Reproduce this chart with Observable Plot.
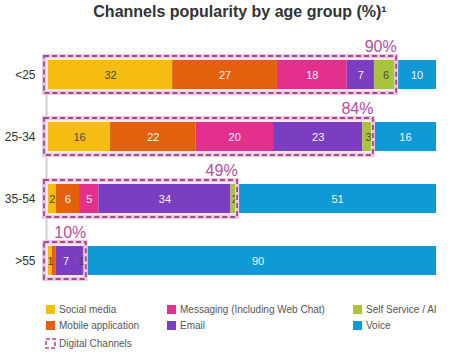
<!DOCTYPE html>
<html>
<head>
<meta charset="utf-8">
<script src="https://cdn.jsdelivr.net/npm/d3@7"></script>
<script src="https://cdn.jsdelivr.net/npm/@observablehq/plot@0.6"></script>
<style>
  body { margin: 0; background: #fff; font-family: Arial, "Liberation Sans", sans-serif; }
  #wrap { position: relative; width: 450px; height: 355px; overflow: hidden; }
  #title { height: 24px; line-height: 24px; font-size: 16px; font-weight: bold; color: #333; text-align: center; padding-left: 30px; box-sizing: border-box; width: 450px; }
  .leg { position: absolute; font-size: 10px; color: #555; white-space: nowrap; line-height: 12px; }
  .sw { position: absolute; width: 9px; height: 9px; }
</style>
</head>
<body>
<div id="wrap">
  <div id="title">Channels popularity by age group (%)¹</div>
  <div id="chart"></div>
  <div id="legend"></div>
</div>
<script>
const ages = ["<25", "25-34", "35-54", ">55"];
const channels = ["Social media", "Mobile application", "Messaging (Including Web Chat)", "Email", "Self Service / AI", "Voice"];
const colors = ["#F5BD12", "#E2600E", "#E3308D", "#7B3DC2", "#A8C43C", "#0F9AD6"];
const socialMedia = [32, 16, 2, 1];
const mobileApp = [27, 22, 6, 1];
const messaging = [18, 20, 5, 0];
const email = [7, 23, 34, 7];
const selfService = [6, 3, 2, 1];
const voice = [10, 16, 51, 90];
const digitalShare = [90, 84, 49, 10];

const series = [socialMedia, mobileApp, messaging, email, selfService, voice];
const data = [];
ages.forEach((a, i) => series.forEach((s, j) => data.push({age: a, channel: channels[j], value: s[i]})));
const digital = ages.map((a, i) => ({age: a, digital: digitalShare[i]}));

const labelData = data.filter(d => d.value > 0 && !(d.age === ">55" && d.channel === "Mobile application"));
const darkText = new Set(["Social media", "Self Service / AI"]);

const H = 290, MT = 1, MB = 5;
const chart = Plot.plot({
  width: 450,
  height: H,
  marginTop: MT,
  marginBottom: MB,
  marginLeft: 48,
  marginRight: 14,
  style: {fontFamily: "Arial, 'Liberation Sans', sans-serif", background: "#fff"},
  x: {domain: [0, 100], axis: null},
  y: {domain: ages, padding: 0.5375, label: null, axis: null},
  color: {domain: channels, range: colors},
  marks: [
    Plot.ruleX([0], {dx: -2, stroke: "#cfcfcf", strokeWidth: 2, insetTop: 34 - MT, insetBottom: (H - MB) - 251}),
    Plot.barX(digital, {x1: 0, x2: "digital", y: "age", fill: "#fde6f3", insetTop: -4, insetBottom: -4, insetLeft: -4, insetRight: 1}),
    Plot.barX(data, Plot.stackX({x: "value", y: "age", fill: "channel"})),
    Plot.text(labelData, Plot.stackX({x: "value", y: "age", text: d => String(d.value), fill: d => darkText.has(d.channel) ? "#4a4a3a" : "#f4f4f4", fontSize: 11})),
    Plot.barX(digital, {x1: 0, x2: "digital", y: "age", fill: "none", stroke: "#f5c6e4", strokeWidth: 4, insetTop: -4, insetBottom: -4, insetLeft: -4, insetRight: 1}),
    Plot.barX(digital, {x1: 0, x2: "digital", y: "age", fill: "none", stroke: "#9a4f8a", strokeWidth: 1.8, strokeDasharray: "5,3", insetTop: -4, insetBottom: -4, insetLeft: -4, insetRight: 1}),
    Plot.text(digital, {x: "digital", y: "age", text: d => d.digital + "%", textAnchor: "end", dy: -28, dx: -1, fill: "#B24E9E", fontSize: 16}),
    Plot.axisY({tickSize: 0, tickPadding: 13, fontSize: 12, color: "#333", label: null})
  ]
});
document.getElementById("chart").appendChild(chart);

const legend = document.getElementById("legend");
const legItems = [
  {label: channels[0], color: colors[0], sx: 46, ty: 310},
  {label: channels[1], color: colors[1], sx: 46, ty: 326},
  {label: channels[2], color: colors[2], sx: 167, ty: 310},
  {label: channels[3], color: colors[3], sx: 167, ty: 326},
  {label: channels[4], color: colors[4], sx: 353, ty: 310},
  {label: channels[5], color: colors[5], sx: 353, ty: 326}
];
legItems.forEach(it => {
  const sw = document.createElement("div");
  sw.className = "sw";
  sw.style.left = it.sx + "px";
  sw.style.top = (it.ty - 5) + "px";
  sw.style.background = it.color;
  legend.appendChild(sw);
  const t = document.createElement("div");
  t.className = "leg";
  t.style.left = (it.sx + 13) + "px";
  t.style.top = (it.ty - 6) + "px";
  t.textContent = it.label;
  legend.appendChild(t);
});
const icon = document.createElementNS("http://www.w3.org/2000/svg", "svg");
icon.setAttribute("width", 11); icon.setAttribute("height", 11);
icon.style.position = "absolute"; icon.style.left = "45px"; icon.style.top = "338px";
icon.innerHTML = '<rect x="1" y="1" width="9" height="9" fill="#fff" stroke="#c2409e" stroke-width="1.6" stroke-dasharray="4,2"/>';
legend.appendChild(icon);
const dt = document.createElement("div");
dt.className = "leg"; dt.style.left = "59px"; dt.style.top = "338px"; dt.textContent = "Digital Channels";
legend.appendChild(dt);
</script>
</body>
</html>
